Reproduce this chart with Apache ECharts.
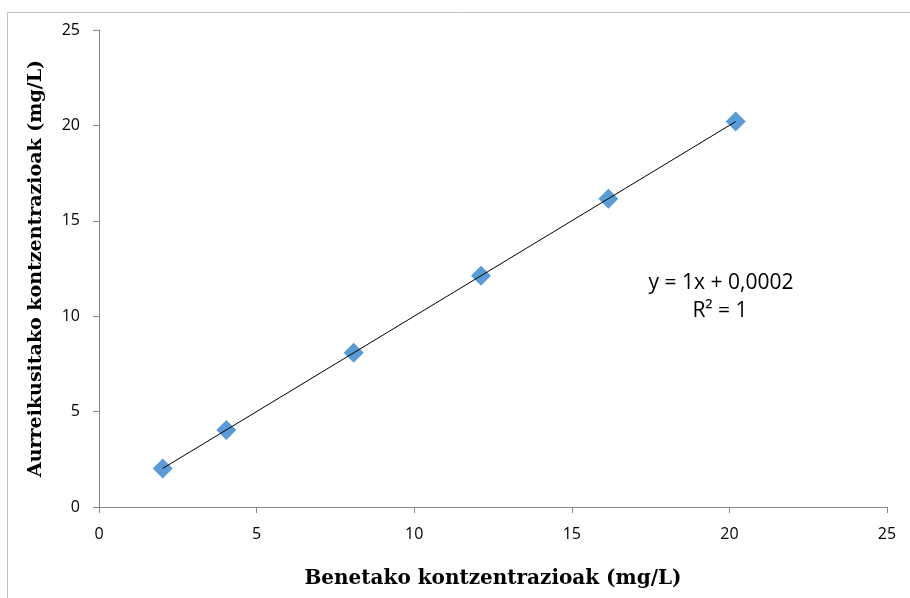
<!DOCTYPE html>
<html>
<head>
<meta charset="utf-8">
<script src="https://cdn.jsdelivr.net/npm/echarts@6/dist/echarts.min.js"></script>
<style>
  html, body { margin: 0; padding: 0; background: #fff; overflow: hidden; }
  #chart { width: 910px; height: 598px; }
</style>
</head>
<body>
<div id="chart"></div>
<script>
// Measured vs. nominal concentrations (mg/L)
const benetakoa = [2.02, 4.04, 8.08, 12.12, 16.16, 20.2];
const aurreikusia = [2.02, 4.04, 8.08, 12.12, 16.16, 20.2];
// Linear trend: y = slope * x + intercept
const slope = 1;
const intercept = 0.0002;
const equationLines = ['y = 1x + 0,0002', 'R² = 1'];
const xTitle = 'Benetako kontzentrazioak (mg/L)';
const yTitle = 'Aurreikusitako kontzentrazioak (mg/L)';

const points = benetakoa.map((x, i) => [x, aurreikusia[i]]);
const xMin = Math.min(...benetakoa), xMax = Math.max(...benetakoa);
const trend = [[xMin, slope * xMin + intercept], [xMax, slope * xMax + intercept]];

const axisColor = '#868686';
const labelFont = 'Open Sans';
const titleFont = 'DejaVu Serif';

const chart = echarts.init(document.getElementById('chart'), null, { renderer: 'canvas', width: 910, height: 598 });
chart.setOption({
  animation: false,
  backgroundColor: '#fff',
  grid: { left: 99, right: 23, top: 30, bottom: 91, containLabel: false, outerBoundsMode: 'none' },
  xAxis: {
    type: 'value', min: 0, max: 25, interval: 5,
    axisLine: { show: true, onZero: false, lineStyle: { color: axisColor, width: 1 } },
    axisTick: { show: true, inside: false, length: 6, lineStyle: { color: axisColor } },
    splitLine: { show: false },
    axisLabel: { color: '#000', fontSize: 16, fontFamily: labelFont, margin: 19 },
    name: xTitle, nameLocation: 'middle', nameGap: 62,
    nameTextStyle: { color: '#000', fontSize: 20, fontWeight: 'bold', fontFamily: titleFont }
  },
  yAxis: {
    type: 'value', min: 0, max: 25, interval: 5,
    axisLine: { show: true, onZero: false, lineStyle: { color: axisColor, width: 1 } },
    axisTick: { show: true, inside: false, length: 6, lineStyle: { color: axisColor } },
    splitLine: { show: false },
    axisLabel: { color: '#000', fontSize: 16, fontFamily: labelFont, margin: 19 },
    name: yTitle, nameLocation: 'middle', nameGap: 53, nameRotate: 90,
    nameTextStyle: { color: '#000', fontSize: 19, fontWeight: 'bold', fontFamily: titleFont }
  },
  series: [
    {
      type: 'line', data: trend, symbol: 'none', silent: true, z: 3,
      lineStyle: { color: '#000', width: 1 }
    },
    {
      type: 'scatter', data: points, symbol: 'diamond', symbolSize: 20, z: 2,
      itemStyle: { color: '#5b9bd5', opacity: 1 }
    }
  ],
  graphic: [
    {
      type: 'rect', shape: { x: 7.5, y: 12.5, width: 920, height: 600 },
      style: { fill: 'none', stroke: '#bfbfbf', lineWidth: 1 }, silent: true, z: -1
    },
    {
      type: 'text', x: 721, y: 283,
      style: { text: equationLines[0], align: 'center', verticalAlign: 'middle', fill: '#000',
               font: '21px "Open Sans"' }
    },
    {
      type: 'text', x: 720, y: 311,
      style: { text: equationLines[1], align: 'center', verticalAlign: 'middle', fill: '#000',
               font: '21px "Open Sans"' }
    }
  ]
});
</script>
</body>
</html>
